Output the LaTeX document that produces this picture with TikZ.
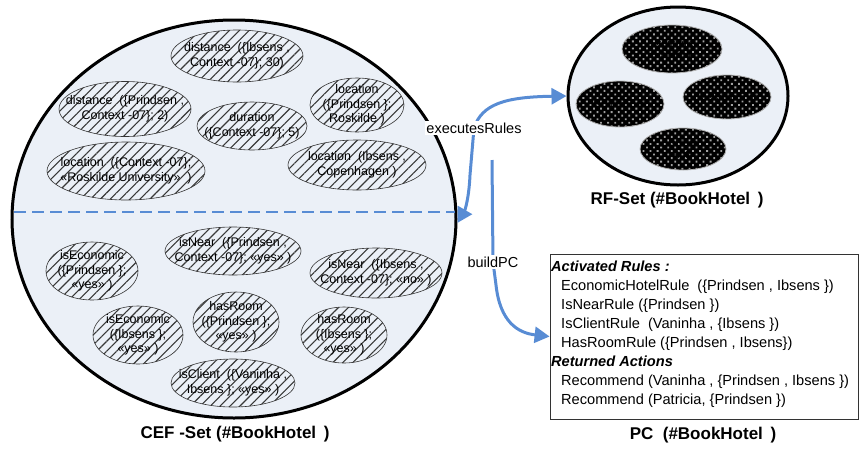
\documentclass[tikz,border=0pt]{standalone}
\usepackage{fontspec}
\setmainfont{Liberation Sans}
\usetikzlibrary{shapes.geometric,patterns.meta,arrows.meta,calc}
\definecolor{setbg}{RGB}{235,240,247}
\definecolor{flowblue}{RGB}{88,140,212}

\tikzset{
  setshape/.style={ellipse, draw=black, line width=3pt, fill=setbg, inner sep=0pt},
  fact/.style={ellipse, draw=black!80, line width=0.6pt, fill=setbg, inner sep=0pt,
    postaction={pattern={Lines[angle=45,distance=7pt,line width=1.1pt]}, pattern color=black!78}},
  facttext/.style={font=\fontsize{12.5}{14.5}\selectfont, align=center, inner sep=0pt},
  rulebox/.style={ellipse, draw=gray!60, line width=0.8pt, fill=black, inner sep=0pt,
    postaction={pattern={Dots[radius=1.3pt,distance=5pt,angle=45]}, pattern color=gray!75}},
  ruletext/.style={font=\fontsize{10}{12}\selectfont, align=center, inner sep=0pt, text=black},
  settitle/.style={font=\fontsize{17}{20}\selectfont\bfseries, inner sep=0pt},
  flow/.style={draw=flowblue, line width=3pt, -{Triangle[length=15pt,width=16pt]}},
  flowboth/.style={draw=flowblue, line width=3pt,
    {Triangle[length=15pt,width=16pt]}-{Triangle[length=15pt,width=16pt]}},
  flowlabel/.style={fill=white, inner sep=1.5pt, font=\fontsize{14.5}{17}\selectfont, text=black},
  divider/.style={draw=flowblue, line width=2.5pt, dash pattern=on 12pt off 6pt},
}

\begin{document}
\begin{tikzpicture}[x=1pt,y=-1pt]
\useasboundingbox (0,0) rectangle (859,448);

% ---------- context fact set ----------
\node[setshape, minimum width=444pt, minimum height=398pt] (cef) at (234,219) {};
\coordinate (divL) at (14,212);
\coordinate (divR) at (455,212);
\draw[divider] (divL) -- (divR);

\node[fact, minimum width=132pt, minimum height=52pt] (f1) at (237,56) {};
\node[facttext] (f1t) at (f1) {distance \ (\{Ibsens ,\\Context -07\}; 30)};
\node[fact, minimum width=132pt, minimum height=55pt] (f2) at (125,109) {};
\node[facttext] (f2t) at (f2) {distance \ (\{Prindsen ,\\Context -07\}; 2)};
\node[fact, minimum width=110pt, minimum height=48pt] (f3) at (252,126) {};
\node[facttext] (f3t) at (f3) {duration\\(\{Context -07\}; 5)};
\node[fact, minimum width=94pt, minimum height=54pt] (f4) at (357,105) {};
\node[facttext] (f4t) at (f4) {location\\(\{Prindsen \};\\Roskilde )};
\node[fact, minimum width=158pt, minimum height=58pt] (f5) at (126,171) {};
\node[facttext] (f5t) at (f5) {location \ (\{Context -07\};\\«Roskilde University» \ )};
\node[fact, minimum width=138pt, minimum height=50pt] (f6) at (357,165) {};
\node[facttext] (f6t) at (f6) {location \ (Ibsens ,\\Copenhagen )};

\node[fact, minimum width=92pt, minimum height=58pt] (f7) at (92,271) {};
\node[facttext] (f7t) at (f7) {isEconomic\\(\{Prindsen \};\\«yes» )};
\node[fact, minimum width=136pt, minimum height=48pt] (f8) at (233,251) {};
\node[facttext] (f8t) at (f8) {isNear \ (\{Prindsen ,\\Context -07\}; «yes» )};
\node[fact, minimum width=132pt, minimum height=50pt] (f9) at (376,273) {};
\node[facttext] (f9t) at (f9) {isNear \ (\{Ibsens ,\\Context -07\}; «no» )};
\node[fact, minimum width=90pt, minimum height=58pt] (f10) at (138,335) {};
\node[facttext] (f10t) at (f10) {isEconomic\\(\{Ibsens \};\\«yes» )};
\node[fact, minimum width=86pt, minimum height=60pt] (f11) at (236,322) {};
\node[facttext] (f11t) at (f11) {hasRoom\\(\{Prindsen \};\\«yes» )};
\node[fact, minimum width=86pt, minimum height=56pt] (f12) at (344,335) {};
\node[facttext] (f12t) at (f12) {hasRoom\\(\{Ibsens \};\\«yes» )};
\node[fact, minimum width=124pt, minimum height=48pt] (f13) at (233,383) {};
\node[facttext] (f13t) at (f13) {isClient \ (\{Vaninha ,\\Ibsens \}; «yes» )};

\node[settitle] (ceftitle) at (235,434) {CEF -Set (\#BookHotel \,)};

% ---------- rule set ----------
\node[setshape, minimum width=220pt, minimum height=178pt] (rf) at (678,96) {};
\node[rulebox, minimum width=100pt, minimum height=48pt] (r1) at (672,49) {};
\node[ruletext] (r1t) at (r1) {Economic\\HotelRule};
\node[rulebox, minimum width=88pt, minimum height=46pt] (r2) at (620,104) {};
\node[ruletext] (r2t) at (r2) {IsClientRule};
\node[rulebox, minimum width=88pt, minimum height=44pt] (r3) at (727,97) {};
\node[ruletext] (r3t) at (r3) {HasRoomRule};
\node[rulebox, minimum width=86pt, minimum height=42pt] (r4) at (683,149) {};
\node[ruletext] (r4t) at (r4) {IsNear\\Rule};
\node[settitle] (rftitle) at (677,200) {RF-Set (\#BookHotel \,)};

% ---------- proactive context ----------
\node[draw=black!80, line width=0.8pt, minimum width=308pt, minimum height=165pt, inner sep=0pt] (pc) at (704,336.5) {};
\node[anchor=north west, inner sep=0pt, align=left, font=\fontsize{14.6}{19}\selectfont] (pctext) at (551,261) {%
  \textbf{\textit{Activated Rules :}}\\
  \hspace*{10pt}EconomicHotelRule \ (\{Prindsen , Ibsens \})\\
  \hspace*{10pt}IsNearRule (\{Prindsen \})\\
  \hspace*{10pt}IsClientRule \ (Vaninha , \{Ibsens \})\\
  \hspace*{10pt}HasRoomRule (\{Prindsen , Ibsens\})\\
  \textbf{\textit{Returned Actions}}\\
  \hspace*{10pt}Recommend (Vaninha , \{Prindsen , Ibsens \})\\
  \hspace*{10pt}Recommend (Patricia, \{Prindsen \})};
\node[settitle] (pctitle) at (703,435) {PC \ (\#BookHotel \,)};

% ---------- connectors ----------
\draw[flowboth] (cef.-1) .. controls (465,210) and (469,198) .. (470,175)
  -- (474,128) node[flowlabel] (exlbl) {executesRules}
  .. controls (482,104) and (505,97) .. (rf.west);

\coordinate (bpstart) at (492,160);
\draw[flow] (bpstart) -- (493,262) node[flowlabel] (bplbl) {buildPC}
  -- (496,285) .. controls (500,322) and (518,333) .. (pc.west);

\end{tikzpicture}
\end{document}
